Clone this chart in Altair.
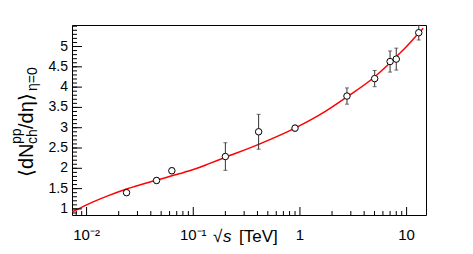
import altair as alt
import pandas as pd

# measured data points
sqrt_s = [0.0237, 0.0453, 0.063, 0.2, 0.41, 0.9, 2.76, 5.02, 7.0, 8.0, 13.0]
dndeta = [1.40, 1.70, 1.94, 2.29, 2.90, 2.99, 3.78, 4.21, 4.63, 4.69, 5.34]
err = [0.06, 0.07, 0.07, 0.34, 0.43, 0.07, 0.20, 0.20, 0.26, 0.27, 0.18]

# fitted curve
curve_x = [0.0073, 0.01, 0.0158, 0.0237, 0.0453, 0.075, 0.1, 0.141, 0.2, 0.41,
           0.9, 1.54, 2.76, 5.0, 7.0, 8.0, 10.0, 13.0, 14.3]
curve_y = [0.92, 1.10, 1.32, 1.49, 1.71, 1.87, 1.97, 2.115, 2.27, 2.59,
           2.99, 3.32, 3.76, 4.25, 4.60, 4.75, 5.00, 5.33, 5.45]

# axis ticks and labels
x_major = [0.01, 0.1, 1, 10]
x_labels = ["10⁻²", "10⁻¹", "1", "10"]
x_minor = [0.008, 0.009, 0.02, 0.03, 0.04, 0.05, 0.06, 0.07, 0.08, 0.09,
           0.2, 0.3, 0.4, 0.5, 0.6, 0.7, 0.8, 0.9,
           2, 3, 4, 5, 6, 7, 8, 9]
y_major = [1, 1.5, 2, 2.5, 3, 3.5, 4, 4.5, 5]
y_labels = ["1", "1.5", "2", "2.5", "3", "3.5", "4", "4.5", "5"]
y_minor = [round(0.9 + 0.1 * i, 1) for i in range(47)]

W, H = 354, 190
XDOM = [0.0073, 15.2]
YDOM = [0.85, 5.53]
FONT = "Liberation Sans"

xs = alt.Scale(type="log", domain=XDOM, nice=False)
ys = alt.Scale(domain=YDOM, nice=False, zero=False)

pts = pd.DataFrame({"x": sqrt_s, "y": dndeta, "lo": [a - b for a, b in zip(dndeta, err)],
                    "hi": [a + b for a, b in zip(dndeta, err)]})
crv = pd.DataFrame({"x": curve_x, "y": curve_y})

X = lambda f: alt.X(f, scale=xs, axis=None)
Y = lambda f: alt.Y(f, scale=ys, axis=None)

base = alt.Chart(crv).mark_line(color="#ff0000", strokeWidth=1.5, interpolate="monotone", clip=True).encode(
    x=X("x:Q"), y=Y("y:Q"))

bars = alt.Chart(pts).mark_rule(color="#333333", strokeWidth=1).encode(
    x=X("x:Q"), y=Y("lo:Q"), y2="hi:Q")
cap_lo = alt.Chart(pts).mark_tick(color="#333333", orient="horizontal", size=4, thickness=1).encode(
    x=X("x:Q"), y=Y("lo:Q"))
cap_hi = alt.Chart(pts).mark_tick(color="#333333", orient="horizontal", size=4, thickness=1).encode(
    x=X("x:Q"), y=Y("hi:Q"))
dots = alt.Chart(pts).mark_point(shape="circle", size=42, filled=True, fill="white",
                                 stroke="black", strokeWidth=1, opacity=1).encode(
    x=X("x:Q"), y=Y("y:Q"))

def yticks(vals, length):
    return alt.Chart(pd.DataFrame({"v": vals})).mark_rule(color="black", strokeWidth=1).encode(
        y=Y("v:Q"), x=alt.value(0), x2=alt.value(length))

def xticks(vals, length):
    return alt.Chart(pd.DataFrame({"v": vals})).mark_rule(color="black", strokeWidth=1).encode(
        x=X("v:Q"), y=alt.value(H), y2=alt.value(H - length))

ylab = alt.Chart(pd.DataFrame({"v": y_major, "t": y_labels})).mark_text(
    font=FONT, fontSize=14, color="black", align="right", baseline="middle").encode(
    y=Y("v:Q"), x=alt.value(-4), text="t:N")
xlab = alt.Chart(pd.DataFrame({"v": x_major, "t": x_labels})).mark_text(
    font=FONT, fontSize=15, color="black", align="center", baseline="middle").encode(
    x=X("v:Q"), y=alt.value(H + 20), text="t:N")

def txt(s, x, y, size, angle=0, style="normal", align="left", baseline="alphabetic"):
    kw = dict(font=FONT, fontSize=size, color="black", align=align, baseline=baseline, fontStyle=style)
    if angle:
        kw["angle"] = angle
    return alt.Chart(pd.DataFrame({"t": [s]})).mark_text(**kw).encode(
        text="t:N", x=alt.value(x), y=alt.value(y))

title_parts = [
    txt("⟨dN", -39, 152, 20, 270),
    txt("pp", -51, 119, 14, 270),
    txt("ch", -35, 119, 14, 270),
    txt("/dη⟩", -39, 104, 20, 270),
    txt("η=0", -35, 66, 14, 270),
    txt("√", 141, 217, 17),
    txt("s", 151, 217, 17, style="italic"),
    txt("[TeV]", 167, 217, 17),
]

chart = alt.layer(
    base, bars, cap_lo, cap_hi, dots,
    yticks(y_minor, 5), yticks(y_major, 10),
    xticks(x_minor, 4), xticks(x_major, 8),
    ylab, xlab,
    *title_parts,
).properties(
    width=W, height=H,
    autosize=alt.AutoSizeParams(type="none"),
    padding={"left": 64, "top": 17, "right": 39, "bottom": 31},
).configure_view(stroke="black", strokeWidth=1)

chart.save("out.html", embed_options={"renderer": "svg", "actions": False})
